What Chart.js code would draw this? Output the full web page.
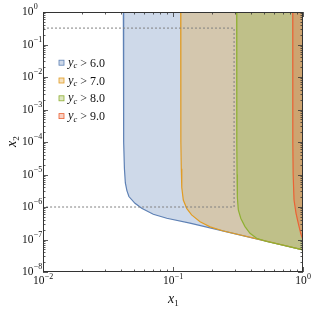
<!DOCTYPE html>
<html><head><meta charset="utf-8">
<script src="https://cdn.jsdelivr.net/npm/chart.js@4"></script>
<style>html,body{margin:0;padding:0;background:#fff}</style>
</head><body>
<canvas id="c" width="320" height="309"></canvas>
<script>
// ---- data ----
const seriesLabels = ['6.0', '7.0', '8.0', '9.0'];

const blueX = [0.0415, 0.0416, 0.0417, 0.0419, 0.0423, 0.043, 0.0442, 0.0458, 0.051, 0.0574, 0.0705, 0.0895, 0.135, 1];
const blueY = [1, 1e-2, 1e-3, 1e-4, 1.5e-5, 5.5e-6, 3.2e-6, 2.1e-6, 1.3e-6, 9.1e-7, 6.0e-7, 4.5e-7, 3.2e-7, 4.8e-8];

const orangeX = [0.1146, 0.1147, 0.1149, 0.1152, 0.1158, 0.1168, 0.12, 0.1274, 0.139, 0.1614, 0.193, 0.244, 0.3, 1];
const orangeY = [1, 1e-2, 1e-3, 1e-4, 1.5e-5, 4e-6, 1.64e-6, 9.1e-7, 5.7e-7, 3.5e-7, 2.45e-7, 1.83e-7, 1.5e-7, 4.8e-8];

const greenX = [0.309, 0.3092, 0.3095, 0.31, 0.311, 0.3125, 0.318, 0.332, 0.358, 0.391, 0.44, 0.526, 0.665, 1];
const greenY = [1, 1e-2, 1e-3, 1e-4, 1e-5, 2e-6, 8.1e-7, 4.5e-7, 2.5e-7, 1.55e-7, 1.09e-7, 8.7e-8, 7.0e-8, 4.8e-8];

const redX = [0.834, 0.8342, 0.8346, 0.8355, 0.84, 0.853, 0.884, 0.92, 0.96, 1];
const redY = [1, 1e-2, 1e-3, 1e-4, 1e-5, 1.64e-6, 6.4e-7, 3.15e-7, 1.55e-7, 9.7e-8];

const boxX = [0.01, 0.295, 0.295, 0.01];
const boxY = [0.32, 0.32, 1e-6, 1e-6];

const xTickValues = [0.01, 0.1, 1];
const xTickLabels = ['10^−2', '10^−1', '10^0'];
const yTickValues = [1e-8, 1e-7, 1e-6, 1e-5, 1e-4, 1e-3, 1e-2, 1e-1, 1];
const yTickLabels = ['10^−8', '10^−7', '10^−6', '10^−5', '10^−4', '10^−3', '10^−2', '10^−1', '10^0'];

// ---- styles ----
const strokeColors = ['#5E81B5', '#E19C24', '#8FB032', '#EB6235'];
const fillColors = ['rgba(94,129,181,0.3)', 'rgba(225,156,36,0.3)', 'rgba(143,176,50,0.3)', 'rgba(235,98,53,0.3)'];
const SERIF = '"Liberation Serif", "DejaVu Serif", serif';

const curves = [[blueX, blueY], [orangeX, orangeY], [greenX, greenY], [redX, redY]];
const pts = (xs, ys) => xs.map((v, i) => ({x: v, y: ys[i]}));

const datasets = [];
curves.forEach(([xs, ys], i) => {
  const c = pts(xs, ys);
  datasets.push({
    data: c.concat([{x: 1, y: 1}]),
    fill: 'shape', backgroundColor: fillColors[i], borderWidth: 0,
    pointRadius: 0, tension: 0, order: 20 - 2 * i
  });
  datasets.push({
    data: c, fill: false, borderColor: strokeColors[i], borderWidth: 1.2,
    pointRadius: 0, tension: 0, order: 19 - 2 * i
  });
});
datasets.push({
  data: pts(boxX, boxY), fill: false, borderColor: '#808080', borderWidth: 1,
  borderDash: [2, 2], pointRadius: 0, tension: 0, order: 0
});

function drawPow(ctx, label, x, yBase, align, big, small, raise) {
  const [b, e] = label.split('^');
  ctx.font = big + 'px ' + SERIF;
  const wb = ctx.measureText(b).width;
  ctx.font = small + 'px ' + SERIF;
  const we = ctx.measureText(e).width;
  let x0;
  if (align === 'center') x0 = x - (wb + we) / 2;
  else x0 = x - wb; // x = right edge of base
  ctx.textAlign = 'left';
  ctx.textBaseline = 'alphabetic';
  ctx.font = big + 'px ' + SERIF;
  ctx.fillText(b, x0, yBase);
  ctx.font = small + 'px ' + SERIF;
  ctx.fillText(e, x0 + wb + 0.3, yBase - raise);
}

const framePlugin = {
  id: 'frame',
  afterDraw(chart) {
    const {ctx, chartArea: a, scales} = chart;
    const sx = scales.x, sy = scales.y;
    ctx.save();
    ctx.strokeStyle = '#333';
    ctx.lineWidth = 1;
    ctx.strokeRect(a.left + 0.5, a.top + 0.5, a.right - a.left - 1, a.bottom - a.top - 1);
    ctx.lineWidth = 0.8;
    ctx.beginPath();
    for (let k = -2; k <= 0; k++) {
      for (let m = 1; m <= 9; m++) {
        const v = m * Math.pow(10, k);
        if (v > 1.0001) break;
        const px = Math.round(sx.getPixelForValue(v)) + 0.5;
        const len = m === 1 ? 5 : 2.5;
        ctx.moveTo(px, a.bottom); ctx.lineTo(px, a.bottom - len);
        ctx.moveTo(px, a.top); ctx.lineTo(px, a.top + len);
      }
    }
    for (let k = -8; k <= 0; k++) {
      for (let m = 1; m <= 9; m++) {
        const v = m * Math.pow(10, k);
        if (v > 1.0001) break;
        const py = Math.round(sy.getPixelForValue(v)) + 0.5;
        const len = m === 1 ? 5 : 2.5;
        ctx.moveTo(a.left, py); ctx.lineTo(a.left + len, py);
        ctx.moveTo(a.right, py); ctx.lineTo(a.right - len, py);
      }
    }
    ctx.stroke();

    ctx.fillStyle = '#111';
    xTickValues.forEach((v, i) => {
      const px = sx.getPixelForValue(v);
      drawPow(ctx, xTickLabels[i], px, a.bottom + 11.5, 'center', 11.5, 8, 5);
    });
    yTickValues.forEach((v, i) => {
      const py = sy.getPixelForValue(v);
      drawPow(ctx, yTickLabels[i], 33.5, py + 3, 'right', 11.5, 8, 6);
    });

    ctx.textAlign = 'left';
    ctx.textBaseline = 'alphabetic';
    const cx = (a.left + a.right) / 2;
    ctx.font = 'italic 14px ' + SERIF;
    const wx = ctx.measureText('x').width;
    ctx.fillText('x', cx - 5, 303);
    ctx.font = '9px ' + SERIF;
    ctx.fillText('1', cx - 5 + wx, 306);

    const cy = (a.top + a.bottom) / 2;
    ctx.save();
    ctx.translate(16, cy + 5);
    ctx.rotate(-Math.PI / 2);
    ctx.font = 'italic 14px ' + SERIF;
    ctx.fillText('x', 0, 0);
    ctx.font = '9px ' + SERIF;
    ctx.fillText('2', wx, 3);
    ctx.restore();

    seriesLabels.forEach((lab, i) => {
      const ry = 62.7 + i * 17.8;
      ctx.fillStyle = '#fff';
      ctx.fillRect(59, ry - 2.5, 5, 5);
      ctx.fillStyle = fillColors[i];
      ctx.fillRect(59, ry - 2.5, 5, 5);
      ctx.strokeStyle = strokeColors[i];
      ctx.lineWidth = 0.8;
      ctx.strokeRect(59, ry - 2.5, 5, 5);
      ctx.fillStyle = '#111';
      let tx = 68;
      ctx.font = 'italic 12.5px ' + SERIF;
      ctx.fillText('y', tx, ry + 3);
      tx += ctx.measureText('y').width;
      ctx.font = 'italic 8.5px ' + SERIF;
      ctx.fillText('c', tx, ry + 5.5);
      tx += ctx.measureText('c').width;
      ctx.font = '12px ' + SERIF;
      ctx.fillText(' > ' + lab, tx, ry + 4);
    });
    ctx.restore();
  }
};

new Chart(document.getElementById('c'), {
  type: 'line',
  data: {datasets},
  options: {
    responsive: false, animation: false, devicePixelRatio: 1,
    layout: {padding: {left: 43, top: 12, right: 17, bottom: 37}},
    plugins: {legend: {display: false}, tooltip: {enabled: false}},
    scales: {
      x: {type: 'logarithmic', min: 0.01, max: 1, display: false},
      y: {type: 'logarithmic', min: 1e-8, max: 1, display: false}
    }
  },
  plugins: [framePlugin]
});
</script>
</body></html>
